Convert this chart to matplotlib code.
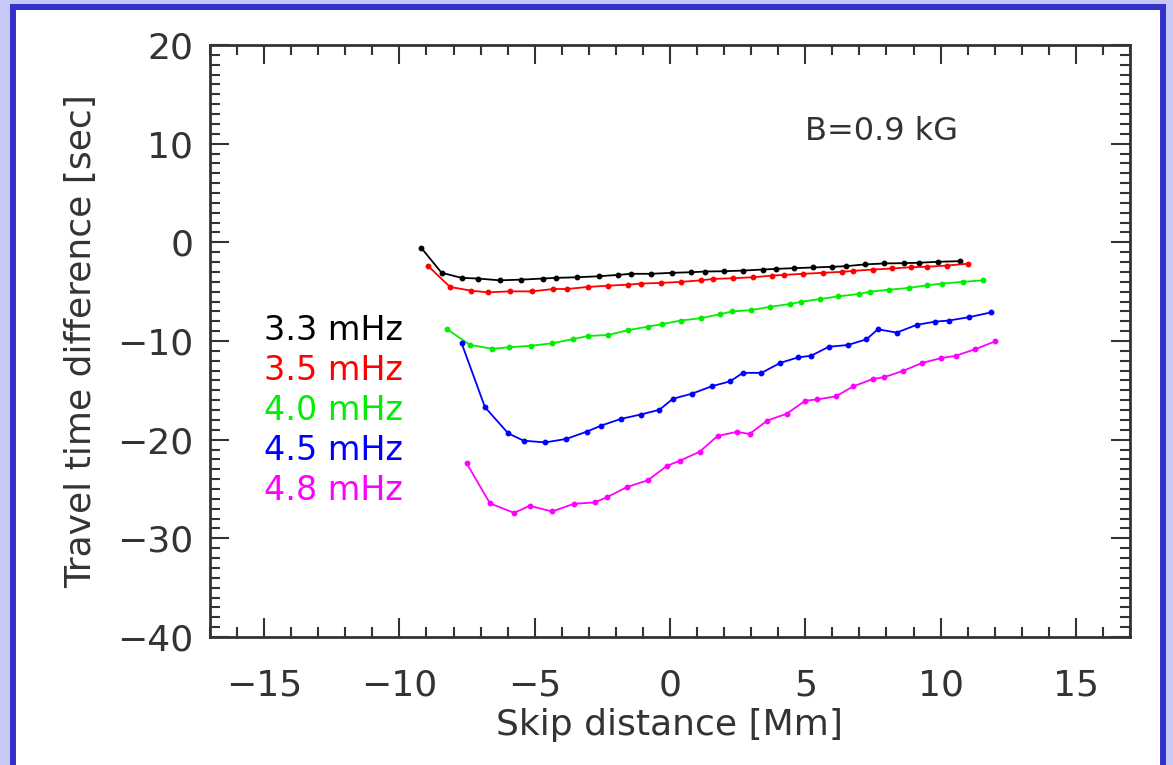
import numpy as np
import matplotlib.pyplot as plt
from matplotlib.patches import Rectangle
from matplotlib.ticker import MultipleLocator

# travel time differences [sec] vs skip distance [Mm], one curve per frequency
x33 = [-9.2, -8.44, -7.70, -7.09, -6.30, -5.49, -4.71, -4.21, -3.42, -2.64, -1.92, -1.43, -0.71, 0.07, 0.79,
       1.28, 2.00, 2.71, 3.42, 3.92, 4.57, 5.28, 5.99, 6.49, 7.20, 7.92, 8.63, 9.20, 9.92, 10.70]
t33 = [-0.54, -3.09, -3.6, -3.67, -3.85, -3.78, -3.67, -3.6, -3.54, -3.44, -3.3, -3.19, -3.19, -3.09, -3.03,
       -2.96, -2.93, -2.86, -2.76, -2.69, -2.62, -2.55, -2.48, -2.42, -2.24, -2.14, -2.11, -2.07, -1.97, -1.91]

x35 = [-8.96, -8.13, -7.35, -6.73, -5.92, -5.11, -4.31, -3.82, -3.02, -2.28, -1.54, -1.07, -0.33, 0.40, 1.14,
       1.60, 2.31, 3.07, 3.78, 4.21, 4.92, 5.64, 6.35, 6.78, 7.49, 8.20, 8.92, 9.49, 10.24, 11.01]
t35 = [-2.35, -4.52, -4.9, -5.07, -4.97, -4.97, -4.73, -4.73, -4.52, -4.39, -4.29, -4.18, -4.11, -4.01, -3.85,
       -3.71, -3.64, -3.54, -3.37, -3.3, -3.19, -3.09, -2.99, -2.89, -2.76, -2.65, -2.52, -2.48, -2.35, -2.17]

x40 = [-8.24, -7.39, -6.56, -5.95, -5.13, -4.35, -3.57, -3.02, -2.28, -1.57, -0.81, -0.31, 0.39, 1.14, 1.86,
       2.28, 3.00, 3.71, 4.42, 4.85, 5.56, 6.21, 7.00, 7.39, 8.10, 8.82, 9.49, 10.06, 10.81, 11.58]
t40 = [-8.8, -10.4, -10.79, -10.64, -10.48, -10.23, -9.8, -9.49, -9.39, -8.91, -8.54, -8.3, -7.93, -7.69, -7.28,
       -7.01, -6.87, -6.53, -6.26, -6.02, -5.74, -5.48, -5.23, -5.0, -4.8, -4.62, -4.36, -4.18, -4.01, -3.85]

x45 = [-7.70, -6.84, -5.98, -5.41, -4.62, -3.84, -3.07, -2.54, -1.81, -1.08, -0.39, 0.11, 0.81, 1.54, 2.23,
       2.69, 3.38, 4.08, 4.74, 5.21, 5.87, 6.57, 7.26, 7.68, 8.38, 9.11, 9.81, 10.30, 11.06, 11.85]
t45 = [-10.23, -16.7, -19.36, -20.1, -20.28, -19.93, -19.18, -18.57, -17.89, -17.45, -16.97, -15.85, -15.34,
       -14.59, -14.08, -13.23, -13.23, -12.21, -11.66, -11.5, -10.58, -10.41, -9.83, -8.81, -9.15, -8.37, -8.03,
       -7.93, -7.58, -7.11]

x48 = [-7.52, -6.65, -5.76, -5.19, -4.36, -3.55, -2.78, -2.32, -1.59, -0.82, -0.11, 0.36, 1.10, 1.76, 2.47,
       2.94, 3.60, 4.31, 5.00, 5.45, 6.13, 6.78, 7.50, 7.91, 8.61, 9.33, 10.03, 10.56, 11.29, 12.02]
t48 = [-22.38, -26.46, -27.42, -26.7, -27.28, -26.5, -26.36, -25.82, -24.8, -24.12, -22.65, -22.14, -21.22,
       -19.62, -19.21, -19.42, -18.06, -17.38, -16.05, -15.92, -15.61, -14.59, -13.85, -13.67, -13.03, -12.21,
       -11.73, -11.5, -10.82, -10.03]

labels = ['3.3 mHz', '3.5 mHz', '4.0 mHz', '4.5 mHz', '4.8 mHz']
colors = ['black', 'red', '#00ee00', 'blue', 'magenta']

ink = '#333333'
plt.rcParams['font.family'] = 'DejaVu Sans'

W, H = 1173, 765
fig = plt.figure(figsize=(W / 100, H / 100), dpi=100)
fig.patch.set_facecolor('#c8c8f6')
# white panel with a blue frame, running off the bottom edge
panel = Rectangle((13 / W, -0.2), 1150 / W, (H - 7) / H + 0.2,
                  transform=fig.transFigure, facecolor='white',
                  edgecolor='#3333cc', linewidth=4.3, zorder=-10)
fig.patches.append(panel)

ax = fig.add_axes([210 / W, 128 / H, 920 / W, 592 / H])
ax.set_facecolor('none')

for xs, ts, c in zip([x33, x35, x40, x45, x48], [t33, t35, t40, t45, t48], colors):
    ax.plot(xs, ts, '-', color=c, lw=1.3, marker='o', ms=3.2, mec=c, mfc=c)

ax.set_xlim(-17, 17)
ax.set_ylim(-40, 20)
ax.xaxis.set_major_locator(MultipleLocator(5))
ax.xaxis.set_minor_locator(MultipleLocator(1))
ax.yaxis.set_major_locator(MultipleLocator(10))
ax.yaxis.set_minor_locator(MultipleLocator(1))
ax.tick_params(which='both', direction='in', top=True, right=True, color=ink, width=1.5,
               labelsize=26, labelcolor=ink)
ax.tick_params(axis='x', pad=23)
ax.tick_params(axis='y', pad=12)
ax.tick_params(which='major', length=14)
ax.tick_params(which='minor', length=7)
for s in ax.spines.values():
    s.set_color(ink)
    s.set_linewidth(2)

ax.set_xlabel('Skip distance [Mm]', fontsize=26, color=ink, labelpad=4)
ax.set_ylabel('Travel time difference [sec]', fontsize=26, color=ink, labelpad=14)

for i, (lab, c) in enumerate(zip(labels, colors)):
    ax.text(-15.0, -8.9 - 4.07 * i, lab, color=c, fontsize=24, va='center', ha='left')

ax.text(5.0, 11.2, 'B=0.9 kG', color=ink, fontsize=23, va='center', ha='left')

fig.savefig('out.png', dpi=100, facecolor=fig.get_facecolor())
